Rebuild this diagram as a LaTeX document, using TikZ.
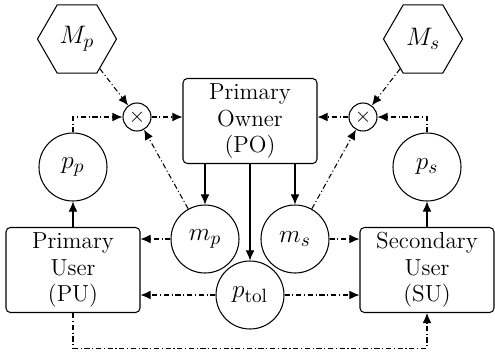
\documentclass[tikz,border=0pt]{standalone}
\usetikzlibrary{shapes.geometric, arrows.meta, positioning}
\tikzset{
    font=\fontsize{13.2}{15.1}\selectfont,
    >={Latex[length=5.7pt,width=5pt]},
    % Shapes
    box/.style={rectangle, draw, line width=0.6pt, rounded corners=2.5pt,
                minimum width=2.68cm, minimum height=1.7cm, align=center, inner sep=2pt},
    param/.style={circle, draw, line width=0.6pt, minimum size=1.36cm, inner sep=0pt,
                  font=\fontsize{15.8}{18}\selectfont},
    hexShape/.style={regular polygon, regular polygon sides=6, draw, line width=0.6pt,
                     minimum size=1.58cm, inner sep=0pt, font=\fontsize{15.8}{18}\selectfont},
    mult/.style={circle, draw, line width=0.6pt, minimum size=0.56cm, inner sep=0pt},
    % Flow
    flow/.style={->, line width=0.6pt},
    sigFlow/.style={->, line width=0.6pt, dash pattern=on 3pt off 1.5pt on 0.6pt off 1.5pt}
}

\begin{document}
\begin{tikzpicture}[on grid]
\useasboundingbox (-5.0,2.42) rectangle (4.9,-4.70);

\node[box] (po) {Primary\\Owner\\(PO)};
\node[mult, above left=0.08cm and 2.26cm of po] (mulP) {$\times$};
\node[mult, above right=0.08cm and 2.26cm of po] (mulS) {$\times$};
\node[hexShape, above left=1.64cm and 3.46cm of po] (Mp) {$M_p$};
\node[hexShape, above right=1.64cm and 3.46cm of po] (Ms) {$M_s$};
\node[param, below left=0.92cm and 3.54cm of po] (pp) {$p_p$};
\node[param, below right=0.92cm and 3.54cm of po] (ps) {$p_s$};
\node[box, below=2.06cm of pp] (pu) {Primary\\User\\(PU)};
\node[box, below=2.06cm of ps] (su) {Secondary\\User\\(SU)};
\node[param, below left=2.36cm and 0.9cm of po] (mp) {$m_p$};
\node[param, below right=2.36cm and 0.9cm of po] (ms) {$m_s$};
\node[param, below=3.48cm of po] (ptol) {$p_{\mathrm{tol}}$};

% owner decides
\draw[flow] (po.south -| mp) -- (mp);
\draw[flow] (po.south -| ms) -- (ms);
\draw[flow] (po) -- (ptol);
\draw[flow] (pu) -- (pp);
\draw[flow] (su) -- (ps);

% payments back to owner
\draw[sigFlow] (Mp) -- (mulP);
\draw[sigFlow] (pp) |- (mulP);
\draw[sigFlow] (mp) -- (mulP);
\draw[sigFlow] (mulP) -- (mulP -| po.west);
\draw[sigFlow] (Ms) -- (mulS);
\draw[sigFlow] (ps) |- (mulS);
\draw[sigFlow] (ms) -- (mulS);
\draw[sigFlow] (mulS) -- (mulS -| po.east);

% announced to users
\draw[sigFlow] (mp) -- (mp -| pu.east);
\draw[sigFlow] (ms) -- (ms -| su.west);
\draw[sigFlow] (ptol) -- (ptol -| pu.east);
\draw[sigFlow] (ptol) -- (ptol -| su.west);
\draw[sigFlow] (pu.south) -- ++(0,-0.7) -| (su.south);

\end{tikzpicture}
\end{document}
